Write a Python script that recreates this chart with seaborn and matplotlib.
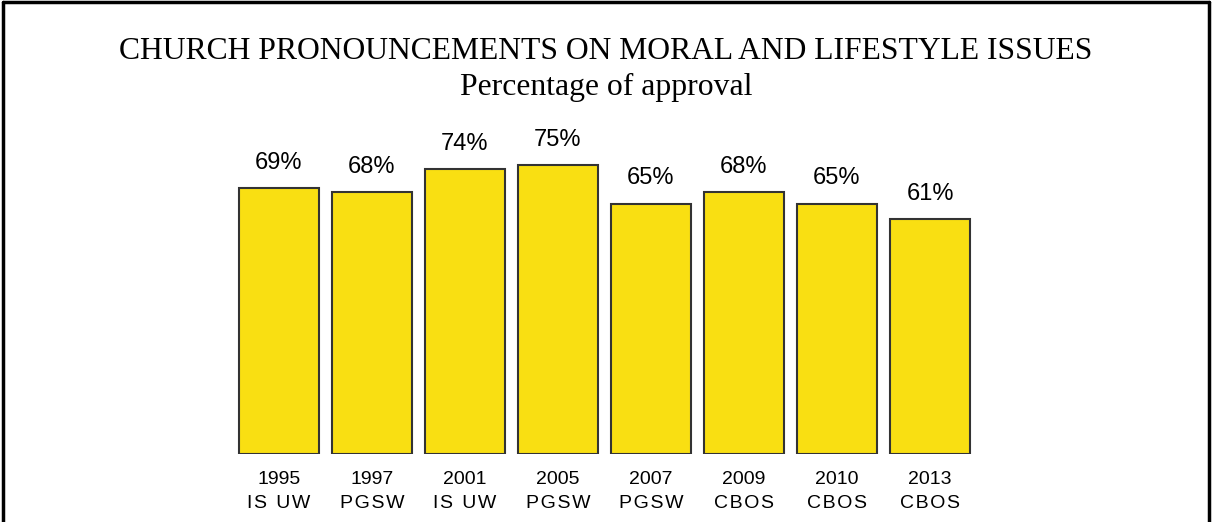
import matplotlib
matplotlib.use("Agg")
import matplotlib.pyplot as plt
from matplotlib.lines import Line2D
import seaborn as sns
import pandas as pd

years = ["1995", "1997", "2001", "2005", "2007", "2009", "2010", "2013"]
sources = ["IS UW", "PGSW", "IS UW", "PGSW", "PGSW", "CBOS", "CBOS", "CBOS"]
approval = [69, 68, 74, 75, 65, 68, 65, 61]

HAIR = "\u200a"
THIN = "\u2009"


def spaced(word):
    # letter-spaced survey source names
    return (" " + THIN).join(HAIR.join(part) for part in word.split(" "))


labels = [f"{y}\n{spaced(s)}" for y, s in zip(years, sources)]
df = pd.DataFrame({"label": labels, "approval": approval})

sns.set_theme(style="white")
plt.rcParams["font.family"] = ["Liberation Sans", "DejaVu Sans"]

fig = plt.figure(figsize=(12.12, 5.22), dpi=100)
ax = fig.add_axes([0.1918, 0.1303, 0.6139, 0.590])

sns.barplot(data=df, x="label", y="approval", color="#F9DF12", saturation=1,
            width=0.86, edgecolor="#333333", linewidth=1.5, ax=ax)

ax.set_xlim(-0.5, len(labels) - 0.5)
ax.set_ylim(0, 80)
for s in ax.spines.values():
    s.set_visible(False)
ax.set_yticks([])
ax.set_xlabel("")
ax.set_ylabel("")
ax.tick_params(axis="x", length=0, pad=12.5, labelsize=14, colors="black")
for t in ax.get_xticklabels():
    t.set_linespacing(1.55)

for i, v in enumerate(approval):
    ax.annotate(f"{v}%", (i, v), xytext=(0, 14), textcoords="offset points",
                ha="center", va="baseline", fontsize=17, color="black")

fig.text(0.5, 0.887, "CHURCH PRONOUNCEMENTS ON MORAL AND LIFESTYLE ISSUES",
         ha="center", va="baseline", fontsize=22.8, family="Liberation Serif", color="black")
fig.text(0.5, 0.818, "Percentage of approval",
         ha="center", va="baseline", fontsize=22.8, family="Liberation Serif", color="black")

# outer frame (left, top, right)
lw = 2.5
fig.add_artist(Line2D([0.0025, 0.0025], [0, 0.9955], transform=fig.transFigure, color="black", lw=lw))
fig.add_artist(Line2D([0.0025, 0.9975], [0.9955, 0.9955], transform=fig.transFigure, color="black", lw=lw))
fig.add_artist(Line2D([0.9975, 0.9975], [0, 0.9955], transform=fig.transFigure, color="black", lw=lw))

fig.savefig("out.png", dpi=100, facecolor="white")
